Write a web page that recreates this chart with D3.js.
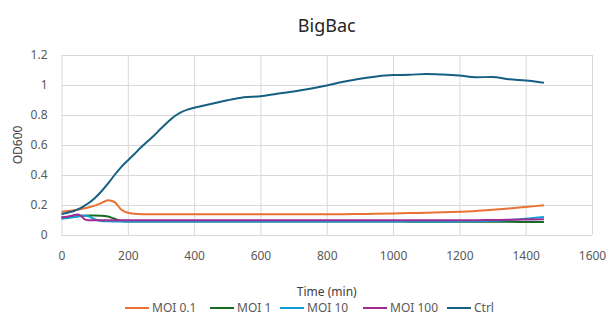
<!DOCTYPE html>
<html>
<head>
<meta charset="utf-8">
<script src="https://cdn.jsdelivr.net/npm/d3@7"></script>
<style>
  body { margin: 0; background: #fff; }
  text { font-family: "Noto Sans", "Open Sans", sans-serif; }
</style>
</head>
<body>
<div class="chart"></div>
<script>
// data
var times = [0, 20, 40, 50, 60, 70, 80, 100, 120, 140, 160, 180, 200, 220, 240, 260, 280, 300, 320, 340, 360, 380, 400,
  450, 500, 550, 600, 650, 700, 750, 800, 850, 900, 950, 1000, 1050, 1100, 1150, 1200, 1250, 1300, 1350, 1400, 1455];

var moi01 = [0.155, 0.16, 0.166, 0.169, 0.173, 0.178, 0.183, 0.196, 0.213, 0.232, 0.22, 0.17, 0.148, 0.141, 0.139, 0.138, 0.138, 0.138, 0.138, 0.138, 0.138, 0.138, 0.138,
  0.138, 0.138, 0.138, 0.138, 0.138, 0.138, 0.138, 0.139, 0.139, 0.14, 0.141, 0.143, 0.146, 0.148, 0.151, 0.155, 0.16, 0.168, 0.177, 0.187, 0.198];
var moi1 = [0.115, 0.12, 0.124, 0.126, 0.128, 0.129, 0.13, 0.13, 0.129, 0.124, 0.108, 0.094, 0.09, 0.09, 0.09, 0.09, 0.09, 0.09, 0.09, 0.09, 0.09, 0.09, 0.09,
  0.09, 0.09, 0.09, 0.09, 0.09, 0.09, 0.09, 0.09, 0.09, 0.09, 0.09, 0.09, 0.089, 0.089, 0.089, 0.089, 0.088, 0.088, 0.088, 0.087, 0.087];
var moi10 = [0.108, 0.113, 0.12, 0.124, 0.127, 0.129, 0.126, 0.105, 0.093, 0.091, 0.09, 0.09, 0.09, 0.09, 0.09, 0.09, 0.09, 0.09, 0.09, 0.09, 0.09, 0.09, 0.09,
  0.09, 0.09, 0.09, 0.09, 0.09, 0.09, 0.09, 0.09, 0.09, 0.09, 0.09, 0.09, 0.09, 0.09, 0.09, 0.091, 0.092, 0.095, 0.1, 0.108, 0.12];
var moi100 = [0.118, 0.124, 0.133, 0.137, 0.125, 0.104, 0.099, 0.098, 0.098, 0.098, 0.098, 0.098, 0.098, 0.098, 0.098, 0.098, 0.098, 0.098, 0.098, 0.098, 0.098, 0.098, 0.098,
  0.098, 0.098, 0.098, 0.098, 0.098, 0.098, 0.098, 0.098, 0.098, 0.098, 0.098, 0.098, 0.098, 0.098, 0.098, 0.099, 0.099, 0.1, 0.101, 0.103, 0.105];
var ctrl = [0.14, 0.15, 0.162, 0.172, 0.183, 0.196, 0.21, 0.245, 0.29, 0.342, 0.4, 0.453, 0.497, 0.54, 0.585, 0.625, 0.665, 0.71, 0.752, 0.79, 0.818, 0.836, 0.848,
  0.873, 0.898, 0.918, 0.925, 0.942, 0.957, 0.975, 0.997, 1.022, 1.042, 1.057, 1.066, 1.068, 1.074, 1.07, 1.063, 1.052, 1.053, 1.038, 1.03, 1.015];

var seriesNames = ['MOI 0.1', 'MOI 1', 'MOI 10', 'MOI 100', 'Ctrl'];
var seriesValues = [moi01, moi1, moi10, moi100, ctrl];
var seriesColors = ['#E97132', '#196B24', '#0F9ED5', '#A02B93', '#156082'];

var xTicks = [0, 200, 400, 600, 800, 1000, 1200, 1400, 1600];
var yTicks = [0, 0.2, 0.4, 0.6, 0.8, 1, 1.2];

var width = 616, height = 321;
var plot = { left: 61.5, right: 592, top: 55, bottom: 235 };

var svg = d3.select('.chart').append('svg')
            .attr('width', width)
            .attr('height', height);

var x = d3.scaleLinear().domain([0, 1600]).range([plot.left, plot.right]);
var y = d3.scaleLinear().domain([0, 1.2]).range([plot.bottom, plot.top]);

//gridlines
var xAxis = svg.append('g')
               .attr('transform', 'translate(0,' + plot.bottom + ')')
               .call(d3.axisBottom(x).tickValues(xTicks).tickSize(-(plot.bottom - plot.top)).tickPadding(16).tickFormat(d3.format('d')));
var yAxis = svg.append('g')
               .attr('transform', 'translate(' + plot.left + ',0)')
               .call(d3.axisLeft(y).tickValues(yTicks).tickSize(-(plot.right - plot.left)).tickPadding(14).tickFormat(function(d) { return d; }));

[xAxis, yAxis].forEach(function(ax) {
  ax.select('.domain').remove();
  ax.selectAll('line').attr('stroke', '#d9d9d9').attr('stroke-width', 1);
  ax.selectAll('text').attr('fill', '#595959').style('font-size', '12px');
});

//lines
var line = d3.line()
             .x(function(d, i) { return x(times[i]); })
             .y(function(d) { return y(d); })
             .curve(d3.curveMonotoneX);

svg.selectAll('.series')
   .data(seriesValues)
   .enter()
   .append('path')
   .attr('class', 'series')
   .attr('d', line)
   .attr('fill', 'none')
   .attr('stroke', function(d, i) { return seriesColors[i]; })
   .attr('stroke-width', 2)
   .attr('stroke-linejoin', 'round');

//titles
svg.append('text')
   .attr('x', (plot.left + plot.right) / 2).attr('y', 32)
   .attr('text-anchor', 'middle')
   .attr('fill', '#262626')
   .style('font-size', '18px')
   .text('BigBac');

svg.append('text')
   .attr('transform', 'translate(22,' + (plot.top + plot.bottom) / 2 + ') rotate(-90)')
   .attr('text-anchor', 'middle')
   .attr('fill', '#404040')
   .style('font-size', '12px')
   .text('OD600');

svg.append('text')
   .attr('x', (plot.left + plot.right) / 2).attr('y', 296)
   .attr('text-anchor', 'middle')
   .attr('fill', '#404040')
   .style('font-size', '12px')
   .text('Time (min)');

//legend
var legendX = [125, 210, 280, 363, 447];
var legend = svg.selectAll('.legend')
                .data(seriesNames)
                .enter()
                .append('g')
                .attr('class', 'legend')
                .attr('transform', function(d, i) { return 'translate(' + legendX[i] + ',308)'; });

legend.append('line')
      .attr('x1', 0).attr('x2', 24)
      .attr('stroke', function(d, i) { return seriesColors[i]; })
      .attr('stroke-width', 2);

legend.append('text')
      .attr('x', 27).attr('y', 4)
      .attr('fill', '#595959')
      .style('font-size', '12px')
      .text(function(d) { return d; });
</script>
</body>
</html>
